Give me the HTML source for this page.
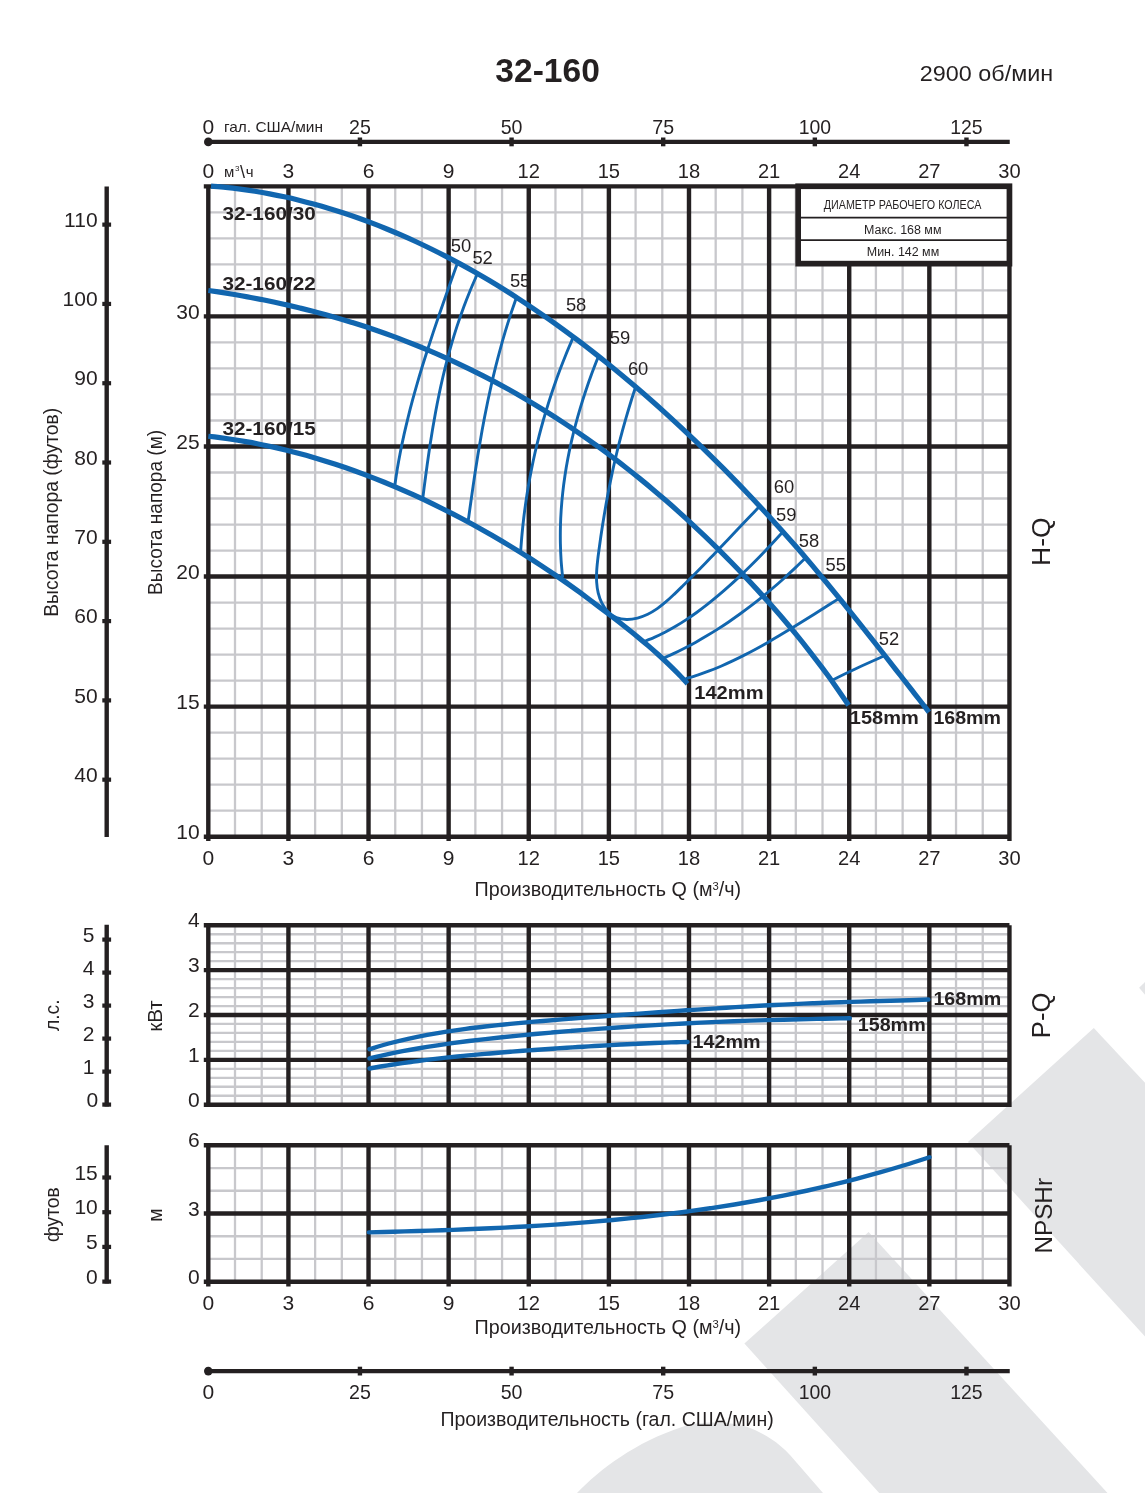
<!DOCTYPE html>
<html><head><meta charset="utf-8"><title>32-160</title>
<style>html,body{margin:0;padding:0;background:#fff}svg{display:block}text{font-family:"Liberation Sans",sans-serif}</style></head>
<body>
<svg width="1145" height="1493" viewBox="0 0 1145 1493" font-family="'Liberation Sans', sans-serif" fill="#231f20">
<rect width="1145" height="1493" fill="#ffffff"/>
<g opacity="0.995">
<g fill="#e4e5e7">
<path d="M1093.8,1028 L967.9,1141.9 L1145,1336.5 L1145,1082.8 Z"/>
<path d="M868.6,1232 L744.4,1343.6 L879.2,1493 L1107.5,1493 Z"/>
<path d="M1139.1,987.7 L1145,982 L1145,994.7 Z"/>
<path d="M577,1493 C600,1469 636,1442 682,1427 C700,1421 730,1421 750,1428 C765,1434 778,1442 790,1455 L823,1493 Z"/>
</g>
<g stroke="#c8c8cc" stroke-width="2.3">
<path d="M235,186.35L235,836.7"/>
<path d="M235,925.3L235,1104.7"/>
<path d="M235,1145.3L235,1281.7"/>
<path d="M261.71,186.35L261.71,836.7"/>
<path d="M261.71,925.3L261.71,1104.7"/>
<path d="M261.71,1145.3L261.71,1281.7"/>
<path d="M315.12,186.35L315.12,836.7"/>
<path d="M315.12,925.3L315.12,1104.7"/>
<path d="M315.12,1145.3L315.12,1281.7"/>
<path d="M341.82,186.35L341.82,836.7"/>
<path d="M341.82,925.3L341.82,1104.7"/>
<path d="M341.82,1145.3L341.82,1281.7"/>
<path d="M395.24,186.35L395.24,836.7"/>
<path d="M395.24,925.3L395.24,1104.7"/>
<path d="M395.24,1145.3L395.24,1281.7"/>
<path d="M421.94,186.35L421.94,836.7"/>
<path d="M421.94,925.3L421.94,1104.7"/>
<path d="M421.94,1145.3L421.94,1281.7"/>
<path d="M475.35,186.35L475.35,836.7"/>
<path d="M475.35,925.3L475.35,1104.7"/>
<path d="M475.35,1145.3L475.35,1281.7"/>
<path d="M502.06,186.35L502.06,836.7"/>
<path d="M502.06,925.3L502.06,1104.7"/>
<path d="M502.06,1145.3L502.06,1281.7"/>
<path d="M555.46,186.35L555.46,836.7"/>
<path d="M555.46,925.3L555.46,1104.7"/>
<path d="M555.46,1145.3L555.46,1281.7"/>
<path d="M582.17,186.35L582.17,836.7"/>
<path d="M582.17,925.3L582.17,1104.7"/>
<path d="M582.17,1145.3L582.17,1281.7"/>
<path d="M635.58,186.35L635.58,836.7"/>
<path d="M635.58,925.3L635.58,1104.7"/>
<path d="M635.58,1145.3L635.58,1281.7"/>
<path d="M662.28,186.35L662.28,836.7"/>
<path d="M662.28,925.3L662.28,1104.7"/>
<path d="M662.28,1145.3L662.28,1281.7"/>
<path d="M715.69,186.35L715.69,836.7"/>
<path d="M715.69,925.3L715.69,1104.7"/>
<path d="M715.69,1145.3L715.69,1281.7"/>
<path d="M742.4,186.35L742.4,836.7"/>
<path d="M742.4,925.3L742.4,1104.7"/>
<path d="M742.4,1145.3L742.4,1281.7"/>
<path d="M795.81,186.35L795.81,836.7"/>
<path d="M795.81,925.3L795.81,1104.7"/>
<path d="M795.81,1145.3L795.81,1281.7"/>
<path d="M822.51,186.35L822.51,836.7"/>
<path d="M822.51,925.3L822.51,1104.7"/>
<path d="M822.51,1145.3L822.51,1281.7"/>
<path d="M875.92,186.35L875.92,836.7"/>
<path d="M875.92,925.3L875.92,1104.7"/>
<path d="M875.92,1145.3L875.92,1281.7"/>
<path d="M902.63,186.35L902.63,836.7"/>
<path d="M902.63,925.3L902.63,1104.7"/>
<path d="M902.63,1145.3L902.63,1281.7"/>
<path d="M956.04,186.35L956.04,836.7"/>
<path d="M956.04,925.3L956.04,1104.7"/>
<path d="M956.04,1145.3L956.04,1281.7"/>
<path d="M982.74,186.35L982.74,836.7"/>
<path d="M982.74,925.3L982.74,1104.7"/>
<path d="M982.74,1145.3L982.74,1281.7"/>
<path d="M208.3,810.69L1009.45,810.69"/>
<path d="M208.3,784.67L1009.45,784.67"/>
<path d="M208.3,758.66L1009.45,758.66"/>
<path d="M208.3,732.64L1009.45,732.64"/>
<path d="M208.3,680.62L1009.45,680.62"/>
<path d="M208.3,654.6L1009.45,654.6"/>
<path d="M208.3,628.59L1009.45,628.59"/>
<path d="M208.3,602.57L1009.45,602.57"/>
<path d="M208.3,550.55L1009.45,550.55"/>
<path d="M208.3,524.53L1009.45,524.53"/>
<path d="M208.3,498.52L1009.45,498.52"/>
<path d="M208.3,472.5L1009.45,472.5"/>
<path d="M208.3,420.48L1009.45,420.48"/>
<path d="M208.3,394.46L1009.45,394.46"/>
<path d="M208.3,368.45L1009.45,368.45"/>
<path d="M208.3,342.43L1009.45,342.43"/>
<path d="M208.3,290.41L1009.45,290.41"/>
<path d="M208.3,264.39L1009.45,264.39"/>
<path d="M208.3,238.38L1009.45,238.38"/>
<path d="M208.3,212.36L1009.45,212.36"/>
<path d="M208.3,1095.73L1009.45,1095.73"/>
<path d="M208.3,1086.76L1009.45,1086.76"/>
<path d="M208.3,1077.79L1009.45,1077.79"/>
<path d="M208.3,1068.82L1009.45,1068.82"/>
<path d="M208.3,1050.88L1009.45,1050.88"/>
<path d="M208.3,1041.91L1009.45,1041.91"/>
<path d="M208.3,1032.94L1009.45,1032.94"/>
<path d="M208.3,1023.97L1009.45,1023.97"/>
<path d="M208.3,1006.03L1009.45,1006.03"/>
<path d="M208.3,997.06L1009.45,997.06"/>
<path d="M208.3,988.09L1009.45,988.09"/>
<path d="M208.3,979.12L1009.45,979.12"/>
<path d="M208.3,961.18L1009.45,961.18"/>
<path d="M208.3,952.21L1009.45,952.21"/>
<path d="M208.3,943.24L1009.45,943.24"/>
<path d="M208.3,934.27L1009.45,934.27"/>
<path d="M208.3,1258.97L1009.45,1258.97"/>
<path d="M208.3,1236.23L1009.45,1236.23"/>
<path d="M208.3,1190.77L1009.45,1190.77"/>
<path d="M208.3,1168.03L1009.45,1168.03"/>
</g>
<rect x="795.3" y="183.1" width="216.6" height="83" fill="#ffffff"/>
<g>
<text x="222.4" y="220.2" font-size="19" font-weight="bold" textLength="93.4" lengthAdjust="spacingAndGlyphs">32-160/30</text>
<text x="222.4" y="289.9" font-size="19" font-weight="bold" textLength="93.4" lengthAdjust="spacingAndGlyphs">32-160/22</text>
<text x="222.4" y="435" font-size="19" font-weight="bold" textLength="93.4" lengthAdjust="spacingAndGlyphs">32-160/15</text>
<text x="694.2" y="698.8" font-size="19" font-weight="bold" textLength="69.4" lengthAdjust="spacingAndGlyphs">142mm</text>
<text x="849.8" y="724.4" font-size="19" font-weight="bold" textLength="69" lengthAdjust="spacingAndGlyphs">158mm</text>
<text x="933.4" y="724.4" font-size="19" font-weight="bold" textLength="67.6" lengthAdjust="spacingAndGlyphs">168mm</text>
<text x="933.4" y="1005" font-size="19" font-weight="bold" textLength="67.8" lengthAdjust="spacingAndGlyphs">168mm</text>
<text x="857.7" y="1031" font-size="19" font-weight="bold" textLength="68" lengthAdjust="spacingAndGlyphs">158mm</text>
<text x="692.6" y="1048.3" font-size="19" font-weight="bold" textLength="68" lengthAdjust="spacingAndGlyphs">142mm</text>
<text x="450.8" y="252.1" font-size="18.4">50</text>
<text x="472.4" y="263.7" font-size="18.4">52</text>
<text x="509.9" y="287.3" font-size="18.4">55</text>
<text x="565.9" y="311.4" font-size="18.4">58</text>
<text x="609.8" y="343.6" font-size="18.4">59</text>
<text x="627.9" y="375.4" font-size="18.4">60</text>
<text x="773.7" y="493.2" font-size="18.4">60</text>
<text x="776" y="520.9" font-size="18.4">59</text>
<text x="798.7" y="547" font-size="18.4">58</text>
<text x="825.5" y="571.3" font-size="18.4">55</text>
<text x="878.8" y="645" font-size="18.4">52</text>
</g>
<g stroke="#231f20" stroke-width="4.4">
<path d="M208.3,186.35L208.3,840.9"/>
<path d="M208.3,925.3L208.3,1104.7"/>
<path d="M208.3,1145.3L208.3,1286.6"/>
<path d="M288.42,186.35L288.42,840.9"/>
<path d="M288.42,925.3L288.42,1106.9"/>
<path d="M288.42,1145.3L288.42,1286.6"/>
<path d="M368.53,186.35L368.53,840.9"/>
<path d="M368.53,925.3L368.53,1106.9"/>
<path d="M368.53,1145.3L368.53,1286.6"/>
<path d="M448.64,186.35L448.64,840.9"/>
<path d="M448.64,925.3L448.64,1106.9"/>
<path d="M448.64,1145.3L448.64,1286.6"/>
<path d="M528.76,186.35L528.76,840.9"/>
<path d="M528.76,925.3L528.76,1106.9"/>
<path d="M528.76,1145.3L528.76,1286.6"/>
<path d="M608.88,186.35L608.88,840.9"/>
<path d="M608.88,925.3L608.88,1106.9"/>
<path d="M608.88,1145.3L608.88,1286.6"/>
<path d="M688.99,186.35L688.99,840.9"/>
<path d="M688.99,925.3L688.99,1106.9"/>
<path d="M688.99,1145.3L688.99,1286.6"/>
<path d="M769.11,186.35L769.11,840.9"/>
<path d="M769.11,925.3L769.11,1106.9"/>
<path d="M769.11,1145.3L769.11,1286.6"/>
<path d="M849.22,186.35L849.22,840.9"/>
<path d="M849.22,925.3L849.22,1106.9"/>
<path d="M849.22,1145.3L849.22,1286.6"/>
<path d="M929.34,186.35L929.34,840.9"/>
<path d="M929.34,925.3L929.34,1106.9"/>
<path d="M929.34,1145.3L929.34,1286.6"/>
<path d="M1009.45,186.35L1009.45,840.9"/>
<path d="M1009.45,925.3L1009.45,1106.9"/>
<path d="M1009.45,1145.3L1009.45,1286.6"/>
<path d="M203.8,836.7L1009.45,836.7"/>
<path d="M203.8,706.63L1009.45,706.63"/>
<path d="M203.8,576.56L1009.45,576.56"/>
<path d="M203.8,446.49L1009.45,446.49"/>
<path d="M203.8,316.42L1009.45,316.42"/>
<path d="M203.8,186.35L1009.45,186.35"/>
<path d="M203.8,1104.7L1009.45,1104.7"/>
<path d="M203.8,1059.85L1009.45,1059.85"/>
<path d="M203.8,1015L1009.45,1015"/>
<path d="M203.8,970.15L1009.45,970.15"/>
<path d="M203.8,925.3L1009.45,925.3"/>
<path d="M203.8,1281.7L1009.45,1281.7"/>
<path d="M203.8,1213.5L1009.45,1213.5"/>
<path d="M203.8,1145.3L1009.45,1145.3"/>
</g>
<g>
<rect x="798.15" y="186.25" width="211.3" height="77.4" fill="#ffffff" stroke="#231f20" stroke-width="5.7"/>
<line x1="800" y1="217.7" x2="1007" y2="217.7" stroke="#231f20" stroke-width="1.8"/>
<line x1="800" y1="240.2" x2="1007" y2="240.2" stroke="#231f20" stroke-width="1.8"/>
<text x="823.8" y="208.9" font-size="12" textLength="157.6" lengthAdjust="spacingAndGlyphs">ДИАМЕТР РАБОЧЕГО КОЛЕСА</text>
<text x="864" y="233.8" font-size="12.45">Макс. 168 мм</text>
<text x="866.8" y="255.6" font-size="12.45">Мин. 142 мм</text>
<line x1="106.7" y1="186.5" x2="106.7" y2="837" stroke="#231f20" stroke-width="4.4"/>
<rect x="102.3" y="777.58" width="8.8" height="4.2" fill="#231f20"/>
<rect x="102.3" y="698.29" width="8.8" height="4.2" fill="#231f20"/>
<rect x="102.3" y="619" width="8.8" height="4.2" fill="#231f20"/>
<rect x="102.3" y="539.71" width="8.8" height="4.2" fill="#231f20"/>
<rect x="102.3" y="460.41" width="8.8" height="4.2" fill="#231f20"/>
<rect x="102.3" y="381.12" width="8.8" height="4.2" fill="#231f20"/>
<rect x="102.3" y="301.83" width="8.8" height="4.2" fill="#231f20"/>
<rect x="102.3" y="222.54" width="8.8" height="4.2" fill="#231f20"/>
<line x1="106.7" y1="924.8" x2="106.7" y2="1106.5" stroke="#231f20" stroke-width="4.4"/>
<rect x="102.3" y="1102.5" width="8.8" height="4.2" fill="#231f20"/>
<rect x="102.3" y="1069.5" width="8.8" height="4.2" fill="#231f20"/>
<rect x="102.3" y="1036.5" width="8.8" height="4.2" fill="#231f20"/>
<rect x="102.3" y="1003.5" width="8.8" height="4.2" fill="#231f20"/>
<rect x="102.3" y="970.5" width="8.8" height="4.2" fill="#231f20"/>
<rect x="102.3" y="937.5" width="8.8" height="4.2" fill="#231f20"/>
<line x1="106.7" y1="1145.3" x2="106.7" y2="1283.6" stroke="#231f20" stroke-width="4.4"/>
<rect x="102.3" y="1279.5" width="8.8" height="4.2" fill="#231f20"/>
<rect x="102.3" y="1244.8" width="8.8" height="4.2" fill="#231f20"/>
<rect x="102.3" y="1210.1" width="8.8" height="4.2" fill="#231f20"/>
<rect x="102.3" y="1175.4" width="8.8" height="4.2" fill="#231f20"/>
<line x1="208.3" y1="141.9" x2="1009.75" y2="141.9" stroke="#231f20" stroke-width="4.2"/>
<circle cx="208.3" cy="141.9" r="4.3" fill="#231f20"/>
<rect x="357.73" y="137.5" width="4.4" height="8.8" fill="#231f20"/>
<rect x="509.37" y="137.5" width="4.4" height="8.8" fill="#231f20"/>
<rect x="661" y="137.5" width="4.4" height="8.8" fill="#231f20"/>
<rect x="812.64" y="137.5" width="4.4" height="8.8" fill="#231f20"/>
<rect x="964.27" y="137.5" width="4.4" height="8.8" fill="#231f20"/>
<line x1="208.3" y1="1371.1" x2="1009.75" y2="1371.1" stroke="#231f20" stroke-width="4.2"/>
<circle cx="208.3" cy="1371.1" r="4.3" fill="#231f20"/>
<rect x="357.73" y="1366.7" width="4.4" height="8.8" fill="#231f20"/>
<rect x="509.37" y="1366.7" width="4.4" height="8.8" fill="#231f20"/>
<rect x="661" y="1366.7" width="4.4" height="8.8" fill="#231f20"/>
<rect x="812.64" y="1366.7" width="4.4" height="8.8" fill="#231f20"/>
<rect x="964.27" y="1366.7" width="4.4" height="8.8" fill="#231f20"/>
<text x="208.3" y="134" font-size="21" text-anchor="middle">0</text>
<text x="208.3" y="1398.5" font-size="21" text-anchor="middle">0</text>
<text x="349.03" y="134" font-size="21" textLength="21.8" lengthAdjust="spacingAndGlyphs">25</text>
<text x="349.03" y="1398.5" font-size="21" textLength="21.8" lengthAdjust="spacingAndGlyphs">25</text>
<text x="500.67" y="134" font-size="21" textLength="21.8" lengthAdjust="spacingAndGlyphs">50</text>
<text x="500.67" y="1398.5" font-size="21" textLength="21.8" lengthAdjust="spacingAndGlyphs">50</text>
<text x="652.3" y="134" font-size="21" textLength="21.8" lengthAdjust="spacingAndGlyphs">75</text>
<text x="652.3" y="1398.5" font-size="21" textLength="21.8" lengthAdjust="spacingAndGlyphs">75</text>
<text x="798.64" y="134" font-size="21" textLength="32.4" lengthAdjust="spacingAndGlyphs">100</text>
<text x="798.64" y="1398.5" font-size="21" textLength="32.4" lengthAdjust="spacingAndGlyphs">100</text>
<text x="950.27" y="134" font-size="21" textLength="32.4" lengthAdjust="spacingAndGlyphs">125</text>
<text x="950.27" y="1398.5" font-size="21" textLength="32.4" lengthAdjust="spacingAndGlyphs">125</text>
<text x="208.3" y="178.3" font-size="21" text-anchor="middle">0</text>
<text x="208.3" y="864.5" font-size="21" text-anchor="middle">0</text>
<text x="208.3" y="1309.6" font-size="21" text-anchor="middle">0</text>
<text x="288.42" y="178.3" font-size="21" text-anchor="middle">3</text>
<text x="288.42" y="864.5" font-size="21" text-anchor="middle">3</text>
<text x="288.42" y="1309.6" font-size="21" text-anchor="middle">3</text>
<text x="368.53" y="178.3" font-size="21" text-anchor="middle">6</text>
<text x="368.53" y="864.5" font-size="21" text-anchor="middle">6</text>
<text x="368.53" y="1309.6" font-size="21" text-anchor="middle">6</text>
<text x="448.64" y="178.3" font-size="21" text-anchor="middle">9</text>
<text x="448.64" y="864.5" font-size="21" text-anchor="middle">9</text>
<text x="448.64" y="1309.6" font-size="21" text-anchor="middle">9</text>
<text x="517.56" y="178.3" font-size="21" textLength="22.4" lengthAdjust="spacingAndGlyphs">12</text>
<text x="517.56" y="864.5" font-size="21" textLength="22.4" lengthAdjust="spacingAndGlyphs">12</text>
<text x="517.56" y="1309.6" font-size="21" textLength="22.4" lengthAdjust="spacingAndGlyphs">12</text>
<text x="597.67" y="178.3" font-size="21" textLength="22.4" lengthAdjust="spacingAndGlyphs">15</text>
<text x="597.67" y="864.5" font-size="21" textLength="22.4" lengthAdjust="spacingAndGlyphs">15</text>
<text x="597.67" y="1309.6" font-size="21" textLength="22.4" lengthAdjust="spacingAndGlyphs">15</text>
<text x="677.79" y="178.3" font-size="21" textLength="22.4" lengthAdjust="spacingAndGlyphs">18</text>
<text x="677.79" y="864.5" font-size="21" textLength="22.4" lengthAdjust="spacingAndGlyphs">18</text>
<text x="677.79" y="1309.6" font-size="21" textLength="22.4" lengthAdjust="spacingAndGlyphs">18</text>
<text x="757.9" y="178.3" font-size="21" textLength="22.4" lengthAdjust="spacingAndGlyphs">21</text>
<text x="757.9" y="864.5" font-size="21" textLength="22.4" lengthAdjust="spacingAndGlyphs">21</text>
<text x="757.9" y="1309.6" font-size="21" textLength="22.4" lengthAdjust="spacingAndGlyphs">21</text>
<text x="838.02" y="178.3" font-size="21" textLength="22.4" lengthAdjust="spacingAndGlyphs">24</text>
<text x="838.02" y="864.5" font-size="21" textLength="22.4" lengthAdjust="spacingAndGlyphs">24</text>
<text x="838.02" y="1309.6" font-size="21" textLength="22.4" lengthAdjust="spacingAndGlyphs">24</text>
<text x="918.13" y="178.3" font-size="21" textLength="22.4" lengthAdjust="spacingAndGlyphs">27</text>
<text x="918.13" y="864.5" font-size="21" textLength="22.4" lengthAdjust="spacingAndGlyphs">27</text>
<text x="918.13" y="1309.6" font-size="21" textLength="22.4" lengthAdjust="spacingAndGlyphs">27</text>
<text x="998.25" y="178.3" font-size="21" textLength="22.4" lengthAdjust="spacingAndGlyphs">30</text>
<text x="998.25" y="864.5" font-size="21" textLength="22.4" lengthAdjust="spacingAndGlyphs">30</text>
<text x="998.25" y="1309.6" font-size="21" textLength="22.4" lengthAdjust="spacingAndGlyphs">30</text>
<text x="199.6" y="838.9" font-size="21" text-anchor="end">10</text>
<text x="199.6" y="708.83" font-size="21" text-anchor="end">15</text>
<text x="199.6" y="578.76" font-size="21" text-anchor="end">20</text>
<text x="199.6" y="448.69" font-size="21" text-anchor="end">25</text>
<text x="199.6" y="318.62" font-size="21" text-anchor="end">30</text>
<text x="97.6" y="781.88" font-size="21" text-anchor="end">40</text>
<text x="97.6" y="702.59" font-size="21" text-anchor="end">50</text>
<text x="97.6" y="623.3" font-size="21" text-anchor="end">60</text>
<text x="97.6" y="544.01" font-size="21" text-anchor="end">70</text>
<text x="97.6" y="464.71" font-size="21" text-anchor="end">80</text>
<text x="97.6" y="385.42" font-size="21" text-anchor="end">90</text>
<text x="97.6" y="306.13" font-size="21" text-anchor="end">100</text>
<text x="97.6" y="226.84" font-size="21" text-anchor="end">110</text>
<text x="199.6" y="1106.7" font-size="21" text-anchor="end">0</text>
<text x="199.6" y="1061.85" font-size="21" text-anchor="end">1</text>
<text x="199.6" y="1017" font-size="21" text-anchor="end">2</text>
<text x="199.6" y="972.15" font-size="21" text-anchor="end">3</text>
<text x="199.6" y="927.3" font-size="21" text-anchor="end">4</text>
<text x="98.2" y="1106.8" font-size="21" text-anchor="end">0</text>
<text x="94.4" y="1073.8" font-size="21" text-anchor="end">1</text>
<text x="94.4" y="1040.8" font-size="21" text-anchor="end">2</text>
<text x="94.4" y="1007.8" font-size="21" text-anchor="end">3</text>
<text x="94.4" y="974.8" font-size="21" text-anchor="end">4</text>
<text x="94.4" y="941.8" font-size="21" text-anchor="end">5</text>
<text x="199.6" y="1283.7" font-size="21" text-anchor="end">0</text>
<text x="199.6" y="1215.5" font-size="21" text-anchor="end">3</text>
<text x="199.6" y="1147.3" font-size="21" text-anchor="end">6</text>
<text x="97.8" y="1283.8" font-size="21" text-anchor="end">0</text>
<text x="97.8" y="1249.1" font-size="21" text-anchor="end">5</text>
<text x="97.8" y="1214.4" font-size="21" text-anchor="end">10</text>
<text x="97.8" y="1179.7" font-size="21" text-anchor="end">15</text>
<text x="224" y="132.3" font-size="15" textLength="99" lengthAdjust="spacingAndGlyphs">гал. США/мин</text>
<text x="224" y="176.9" font-size="15">м<tspan font-size="8" dy="-5.5" dx="0.6">3</tspan><tspan dy="6.5" dx="0.6" font-size="18">\</tspan><tspan dy="-1" dx="0.8">ч</tspan></text>
<text x="495.3" y="81.9" font-size="33" font-weight="bold" textLength="104.6" lengthAdjust="spacingAndGlyphs">32-160</text>
<text x="919.8" y="80.5" font-size="22" textLength="133.4" lengthAdjust="spacingAndGlyphs">2900 об/мин</text>
<text x="474.6" y="895.9" font-size="19.3" textLength="266.6" lengthAdjust="spacingAndGlyphs">Производительность Q (м<tspan font-size="11" dy="-6">3</tspan><tspan dy="6">/ч)</tspan></text>
<text x="474.6" y="1334.1" font-size="19.3" textLength="266.6" lengthAdjust="spacingAndGlyphs">Производительность Q (м<tspan font-size="11" dy="-6">3</tspan><tspan dy="6">/ч)</tspan></text>
<text x="440.4" y="1425.5" font-size="19.3" textLength="333.4" lengthAdjust="spacingAndGlyphs">Производительность (гал. США/мин)</text>
<text x="-46.6" y="512.3" font-size="19.3" textLength="209" lengthAdjust="spacingAndGlyphs" transform="rotate(-90 57.9 512.3)">Высота напора (футов)</text>
<text x="79.7" y="512.4" font-size="19.3" textLength="165" lengthAdjust="spacingAndGlyphs" transform="rotate(-90 162.2 512.4)">Высота напора (м)</text>
<text x="58.9" y="1015.3" font-size="19.3" text-anchor="middle" transform="rotate(-90 58.9 1015.3)">л.с.</text>
<text x="146.4" y="1016" font-size="19.3" textLength="31.6" lengthAdjust="spacingAndGlyphs" transform="rotate(-90 162.2 1016)">кВт</text>
<text x="58.9" y="1214.6" font-size="19.3" text-anchor="middle" transform="rotate(-90 58.9 1214.6)">футов</text>
<text x="162.2" y="1215" font-size="19.3" text-anchor="middle" transform="rotate(-90 162.2 1215)">м</text>
<text x="1026" y="541.7" font-size="25" textLength="48.6" lengthAdjust="spacingAndGlyphs" transform="rotate(-90 1050.3 541.7)">H-Q</text>
<text x="1027.55" y="1015.4" font-size="25" textLength="45.5" lengthAdjust="spacingAndGlyphs" transform="rotate(-90 1050.3 1015.4)">P-Q</text>
<text x="1014.2" y="1215.8" font-size="24.6" textLength="75.6" lengthAdjust="spacingAndGlyphs" transform="rotate(-90 1052 1215.8)">NPSHr</text>
</g>
<path d="M457.31,263.5C456.29,266.35 453.21,274.89 451.18,280.59C449.15,286.29 447.13,291.99 445.12,297.68C443.12,303.38 441.14,309.08 439.18,314.78C437.22,320.47 435.28,326.17 433.38,331.87C431.49,337.57 429.61,343.26 427.78,348.96C425.95,354.66 424.16,360.36 422.41,366.05C420.67,371.75 418.96,377.45 417.32,383.15C415.67,388.84 414.07,394.54 412.53,400.24C411,405.94 409.52,411.63 408.11,417.33C406.7,423.03 405.35,428.73 404.08,434.42C402.8,440.12 401.6,445.82 400.48,451.52C399.36,457.21 398.32,462.91 397.36,468.61C396.41,474.31 395.2,482.85 394.76,485.7" fill="none" stroke="#1065af" stroke-width="2.9" stroke-linecap="butt" stroke-linejoin="round"/>
<path d="M477.11,274.5C475.88,277.37 472.04,285.97 469.69,291.71C467.35,297.44 465.13,303.18 463.02,308.92C460.92,314.65 458.94,320.39 457.05,326.12C455.17,331.86 453.4,337.59 451.71,343.33C450.03,349.07 448.45,354.8 446.95,360.54C445.45,366.27 444.05,372.01 442.72,377.75C441.38,383.48 440.13,389.22 438.94,394.95C437.75,400.69 436.64,406.43 435.57,412.16C434.51,417.9 433.51,423.63 432.55,429.37C431.59,435.11 430.69,440.84 429.82,446.58C428.95,452.31 428.12,458.05 427.32,463.78C426.51,469.52 425.75,475.26 424.99,480.99C424.23,486.73 423.15,495.33 422.78,498.2" fill="none" stroke="#1065af" stroke-width="2.9" stroke-linecap="butt" stroke-linejoin="round"/>
<path d="M516.15,298.3C515.18,301.15 512.19,309.68 510.33,315.38C508.47,321.07 506.7,326.76 505,332.45C503.3,338.15 501.68,343.84 500.13,349.53C498.57,355.22 497.09,360.92 495.67,366.61C494.25,372.3 492.9,377.99 491.6,383.68C490.3,389.38 489.06,395.07 487.87,400.76C486.68,406.45 485.54,412.15 484.45,417.84C483.35,423.53 482.31,429.22 481.3,434.92C480.29,440.61 479.32,446.3 478.38,451.99C477.44,457.68 476.54,463.38 475.66,469.07C474.78,474.76 473.93,480.45 473.1,486.15C472.27,491.84 471.46,497.53 470.66,503.22C469.86,508.92 468.69,517.45 468.3,520.3" fill="none" stroke="#1065af" stroke-width="2.9" stroke-linecap="butt" stroke-linejoin="round"/>
<path d="M572.84,338.1C571.69,340.83 568.16,349.02 565.95,354.48C563.74,359.94 561.61,365.39 559.57,370.85C557.53,376.31 555.57,381.77 553.69,387.23C551.81,392.69 550.01,398.15 548.3,403.61C546.58,409.07 544.95,414.53 543.39,419.98C541.84,425.44 540.36,430.9 538.97,436.36C537.57,441.82 536.25,447.28 535.01,452.74C533.76,458.2 532.6,463.66 531.51,469.12C530.42,474.57 529.41,480.03 528.47,485.49C527.53,490.95 526.66,496.41 525.87,501.87C525.08,507.33 524.36,512.79 523.71,518.25C523.07,523.71 522.49,529.16 521.99,534.62C521.48,540.08 520.9,548.27 520.68,551" fill="none" stroke="#1065af" stroke-width="2.9" stroke-linecap="butt" stroke-linejoin="round"/>
<path d="M597.98,357.4C596.91,360.22 593.58,368.67 591.52,374.3C589.46,379.93 587.48,385.57 585.6,391.2C583.72,396.83 581.93,402.47 580.25,408.1C578.56,413.73 576.97,419.37 575.49,425C574,430.63 572.61,436.27 571.33,441.9C570.05,447.53 568.87,453.17 567.81,458.8C566.74,464.43 565.78,470.07 564.94,475.7C564.09,481.33 563.35,486.97 562.74,492.6C562.12,498.23 561.61,503.87 561.23,509.5C560.85,515.13 560.58,520.77 560.44,526.4C560.3,532.03 560.28,537.67 560.39,543.3C560.5,548.93 560.73,554.57 561.09,560.2C561.45,565.83 562.33,574.28 562.57,577.1" fill="none" stroke="#1065af" stroke-width="2.9" stroke-linecap="butt" stroke-linejoin="round"/>
<path d="M635.35,387.76C634.77,389.55 633,394.95 631.87,398.52C630.74,402.1 629.65,405.66 628.58,409.21C627.51,412.76 626.47,416.3 625.46,419.84C624.45,423.37 623.46,426.89 622.51,430.41C621.55,433.94 620.62,437.45 619.72,440.96C618.82,444.48 617.94,447.99 617.09,451.5C616.24,455.02 615.41,458.53 614.61,462.04C613.8,465.56 613.02,469.08 612.26,472.61C611.5,476.13 610.77,479.66 610.05,483.21C609.34,486.75 608.64,490.3 607.97,493.86C607.29,497.42 606.64,500.99 606,504.58C605.36,508.17 604.75,511.77 604.14,515.39C603.54,519.01 602.96,522.65 602.39,526.3C601.82,529.96 601.27,533.64 600.73,537.34C600.2,541.04 599.67,544.76 599.17,548.5C598.66,552.25 598.12,556.04 597.7,559.81C597.29,563.59 596.86,567.4 596.68,571.13C596.51,574.87 596.41,578.61 596.66,582.24C596.91,585.87 597.32,589.46 598.18,592.91C599.03,596.35 600.17,599.78 601.79,602.91C603.42,606.04 605.48,609.25 607.91,611.69C610.34,614.12 613.26,616.22 616.38,617.52C619.49,618.81 623.09,619.34 626.6,619.43C630.11,619.53 633.9,618.95 637.43,618.09C640.96,617.23 644.45,615.85 647.75,614.28C651.05,612.7 654.18,610.73 657.23,608.64C660.28,606.55 663.19,604.15 666.05,601.73C668.91,599.3 671.66,596.67 674.39,594.09C677.12,591.51 679.79,588.87 682.44,586.26C685.09,583.66 687.7,581.06 690.3,578.47C692.89,575.87 695.46,573.28 698.01,570.69C700.56,568.1 703.09,565.52 705.6,562.93C708.12,560.34 710.62,557.75 713.12,555.15C715.62,552.55 718.11,549.95 720.6,547.34C723.09,544.73 725.57,542.12 728.07,539.49C730.57,536.87 733.06,534.23 735.58,531.58C738.09,528.93 740.61,526.27 743.15,523.59C745.7,520.91 748.25,518.22 750.84,515.51C753.42,512.8 757.36,508.68 758.66,507.32" fill="none" stroke="#1065af" stroke-width="2.9" stroke-linecap="butt" stroke-linejoin="round"/>
<path d="M643.6,641.76C645.38,641.03 650.72,639 654.28,637.42C657.84,635.84 661.39,634.11 664.95,632.26C668.51,630.41 672.07,628.42 675.63,626.31C679.19,624.2 682.75,621.96 686.31,619.61C689.87,617.26 693.43,614.79 696.98,612.21C700.54,609.63 704.1,606.93 707.66,604.14C711.22,601.34 714.78,598.44 718.34,595.44C721.9,592.45 725.46,589.35 729.02,586.16C732.57,582.98 736.13,579.7 739.69,576.34C743.25,572.98 746.81,569.53 750.37,566.01C753.93,562.5 757.49,558.89 761.05,555.23C764.61,551.56 768.16,547.82 771.72,544.02C775.28,540.22 780.62,534.36 782.4,532.43" fill="none" stroke="#1065af" stroke-width="2.9" stroke-linecap="butt" stroke-linejoin="round"/>
<path d="M663.1,658.42C664.92,657.59 670.38,655.16 674.02,653.42C677.66,651.69 681.31,649.88 684.95,648C688.59,646.12 692.23,644.17 695.87,642.15C699.51,640.12 703.15,638.03 706.79,635.85C710.43,633.68 714.07,631.44 717.72,629.12C721.36,626.8 725,624.4 728.64,621.93C732.28,619.46 735.92,616.91 739.56,614.29C743.2,611.66 746.84,608.96 750.48,606.17C754.13,603.39 757.77,600.53 761.41,597.59C765.05,594.65 768.69,591.63 772.33,588.52C775.97,585.42 779.61,582.24 783.25,578.97C786.89,575.71 790.54,572.36 794.18,568.93C797.82,565.5 803.28,560.14 805.1,558.38" fill="none" stroke="#1065af" stroke-width="2.9" stroke-linecap="butt" stroke-linejoin="round"/>
<path d="M685.8,678.65C687.75,678.06 693.61,676.42 697.51,675.14C701.41,673.86 705.31,672.46 709.22,670.98C713.12,669.49 717.02,667.89 720.92,666.22C724.83,664.54 728.73,662.77 732.63,660.93C736.53,659.08 740.44,657.15 744.34,655.16C748.24,653.17 752.14,651.1 756.05,648.98C759.95,646.86 763.85,644.67 767.75,642.44C771.66,640.21 775.56,637.93 779.46,635.61C783.36,633.3 787.27,630.93 791.17,628.55C795.07,626.16 798.97,623.74 802.88,621.31C806.78,618.87 810.68,616.41 814.58,613.95C818.49,611.49 822.39,609.01 826.29,606.54C830.19,604.07 836.05,600.37 838,599.14" fill="none" stroke="#1065af" stroke-width="2.9" stroke-linecap="butt" stroke-linejoin="round"/>
<path d="M832.3,680C836.65,677.92 849.7,671.53 858.4,667.5C867.1,663.47 880.15,657.75 884.5,655.8" fill="none" stroke="#1065af" stroke-width="2.9" stroke-linecap="butt" stroke-linejoin="round"/>
<path d="M211,186.1C213.44,186.32 220.77,186.91 225.65,187.42C230.54,187.93 235.42,188.51 240.31,189.16C245.19,189.8 250.07,190.52 254.96,191.3C259.84,192.09 264.73,192.94 269.61,193.86C274.5,194.79 279.38,195.78 284.27,196.83C289.15,197.89 294.03,199.02 298.92,200.21C303.8,201.41 308.69,202.67 313.57,204C318.46,205.33 323.34,206.72 328.22,208.19C333.11,209.65 337.99,211.18 342.88,212.78C347.76,214.38 352.65,216.05 357.53,217.78C362.41,219.51 367.3,221.31 372.18,223.18C377.07,225.04 381.95,226.98 386.84,228.97C391.72,230.97 396.61,233.04 401.49,235.17C406.37,237.3 411.26,239.5 416.14,241.76C421.03,244.02 425.91,246.35 430.8,248.74C435.68,251.14 440.56,253.59 445.45,256.12C450.33,258.64 455.22,261.23 460.1,263.89C464.99,266.54 469.87,269.26 474.76,272.05C479.64,274.83 484.52,277.68 489.41,280.59C494.29,283.51 499.18,286.48 504.06,289.53C508.95,292.57 513.83,295.67 518.71,298.84C523.6,302.01 528.48,305.25 533.37,308.54C538.25,311.84 543.14,315.2 548.02,318.63C552.9,322.05 557.79,325.54 562.67,329.09C567.56,332.64 572.44,336.26 577.33,339.93C582.21,343.61 587.1,347.35 591.98,351.15C596.86,354.96 601.75,358.82 606.63,362.75C611.52,366.68 616.4,370.67 621.29,374.72C626.17,378.77 631.05,382.89 635.94,387.06C640.82,391.24 645.71,395.48 650.59,399.78C655.48,404.08 660.36,408.44 665.24,412.87C670.13,417.3 675.01,421.78 679.9,426.33C684.78,430.88 689.67,435.5 694.55,440.17C699.44,444.84 704.32,449.58 709.2,454.38C714.09,459.18 718.97,464.04 723.86,468.96C728.74,473.89 733.63,478.87 738.51,483.92C743.39,488.97 748.28,494.08 753.16,499.26C758.05,504.45 762.93,509.69 767.82,515.01C772.7,520.34 777.59,525.73 782.47,531.19C787.35,536.66 792.24,542.2 797.12,547.82C802.01,553.44 806.89,559.14 811.78,564.92C816.66,570.69 821.54,576.55 826.43,582.46C831.31,588.37 836.2,594.35 841.08,600.38C845.97,606.4 850.85,612.49 855.73,618.61C860.62,624.73 865.5,630.9 870.39,637.09C875.27,643.28 880.16,649.51 885.04,655.75C889.93,661.98 894.81,668.25 899.69,674.51C904.58,680.77 909.46,687.05 914.35,693.32C919.23,699.59 926.56,708.97 929,712.11" fill="none" stroke="#1065af" stroke-width="5.2" stroke-linecap="butt" stroke-linejoin="round"/>
<path d="M208.3,290.47C210.48,290.79 217.01,291.74 221.37,292.42C225.72,293.1 230.08,293.81 234.43,294.55C238.79,295.29 243.15,296.06 247.5,296.86C251.86,297.66 256.21,298.48 260.57,299.35C264.93,300.21 269.28,301.1 273.64,302.03C277.99,302.95 282.35,303.91 286.7,304.9C291.06,305.89 295.42,306.92 299.77,307.98C304.13,309.04 308.48,310.13 312.84,311.26C317.19,312.39 321.55,313.56 325.91,314.76C330.26,315.96 334.62,317.2 338.97,318.48C343.33,319.76 347.69,321.07 352.04,322.42C356.4,323.78 360.75,325.17 365.11,326.6C369.46,328.03 373.82,329.5 378.18,331.01C382.53,332.52 386.89,334.07 391.24,335.67C395.6,337.26 399.95,338.89 404.31,340.57C408.67,342.25 413.02,343.97 417.38,345.73C421.73,347.5 426.09,349.31 430.44,351.16C434.8,353.01 439.16,354.91 443.51,356.85C447.87,358.79 452.22,360.78 456.58,362.81C460.94,364.85 465.29,366.93 469.65,369.05C474,371.18 478.36,373.36 482.71,375.58C487.07,377.81 491.43,380.08 495.78,382.4C500.14,384.73 504.49,387.1 508.85,389.52C513.2,391.94 517.56,394.42 521.92,396.94C526.27,399.47 530.63,402.04 534.98,404.67C539.34,407.3 543.7,409.98 548.05,412.72C552.41,415.45 556.76,418.24 561.12,421.08C565.47,423.93 569.83,426.82 574.19,429.78C578.54,432.73 582.9,435.74 587.25,438.8C591.61,441.87 595.96,444.99 600.32,448.17C604.68,451.35 609.03,454.58 613.39,457.88C617.74,461.17 622.1,464.53 626.46,467.94C630.81,471.35 635.17,474.83 639.52,478.36C643.88,481.9 648.23,485.49 652.59,489.15C656.95,492.81 661.3,496.53 665.66,500.32C670.01,504.1 674.37,507.95 678.72,511.86C683.08,515.78 687.44,519.76 691.79,523.8C696.15,527.85 700.5,531.96 704.86,536.14C709.21,540.32 713.57,544.57 717.93,548.88C722.28,553.2 726.64,557.58 730.99,562.04C735.35,566.5 739.71,571.02 744.06,575.62C748.42,580.22 752.77,584.89 757.13,589.63C761.48,594.38 765.84,599.18 770.2,604.08C774.55,608.98 778.91,613.93 783.26,619.02C787.62,624.12 791.97,629.31 796.33,634.64C800.69,639.98 805.04,645.45 809.4,651.04C813.75,656.62 818.11,662.31 822.47,668.16C826.82,674.01 831.18,679.97 835.53,686.13C839.89,692.3 846.42,702 848.6,705.17" fill="none" stroke="#1065af" stroke-width="5.2" stroke-linecap="butt" stroke-linejoin="round"/>
<path d="M208.3,436.22C209.93,436.42 214.82,436.98 218.08,437.39C221.34,437.81 224.6,438.26 227.86,438.73C231.12,439.2 234.38,439.7 237.64,440.23C240.9,440.76 244.16,441.32 247.42,441.9C250.68,442.48 253.94,443.1 257.2,443.74C260.46,444.37 263.72,445.04 266.98,445.73C270.24,446.43 273.5,447.15 276.76,447.9C280.02,448.65 283.28,449.42 286.54,450.22C289.8,451.03 293.06,451.86 296.32,452.71C299.58,453.57 302.84,454.45 306.1,455.36C309.36,456.27 312.62,457.21 315.88,458.17C319.14,459.13 322.4,460.12 325.66,461.14C328.91,462.16 332.17,463.2 335.43,464.27C338.69,465.34 341.95,466.44 345.21,467.56C348.47,468.68 351.73,469.83 354.99,471C358.25,472.18 361.51,473.38 364.77,474.6C368.03,475.83 371.29,477.08 374.55,478.36C377.81,479.64 381.07,480.94 384.33,482.27C387.59,483.6 390.85,484.96 394.11,486.34C397.37,487.72 400.63,489.13 403.89,490.56C407.15,491.99 410.41,493.45 413.67,494.93C416.93,496.41 420.19,497.92 423.45,499.46C426.71,500.99 429.97,502.55 433.23,504.13C436.49,505.71 439.75,507.32 443.01,508.96C446.27,510.59 449.53,512.25 452.79,513.93C456.05,515.62 459.31,517.32 462.57,519.06C465.83,520.79 469.09,522.55 472.35,524.33C475.61,526.11 478.87,527.92 482.13,529.75C485.39,531.58 488.65,533.43 491.91,535.31C495.17,537.19 498.43,539.09 501.69,541.02C504.95,542.95 508.21,544.9 511.47,546.88C514.73,548.85 517.99,550.85 521.25,552.88C524.51,554.9 527.77,556.95 531.03,559.02C534.29,561.1 537.55,563.2 540.81,565.33C544.07,567.46 547.33,569.62 550.59,571.82C553.85,574.01 557.11,576.24 560.37,578.5C563.63,580.76 566.89,583.07 570.14,585.4C573.4,587.73 576.66,590.09 579.92,592.48C583.18,594.87 586.44,597.29 589.7,599.72C592.96,602.16 596.22,604.62 599.48,607.09C602.74,609.55 606,612.04 609.26,614.53C612.52,617.03 615.78,619.53 619.04,622.06C622.3,624.59 625.56,627.14 628.82,629.73C632.08,632.33 635.34,634.95 638.6,637.64C641.86,640.33 645.12,643.05 648.38,645.86C651.64,648.67 654.9,651.53 658.16,654.49C661.42,657.45 664.68,660.47 667.94,663.61C671.2,666.75 674.46,669.96 677.72,673.31C680.98,676.65 685.87,681.94 687.5,683.67" fill="none" stroke="#1065af" stroke-width="5.2" stroke-linecap="butt" stroke-linejoin="round"/>
<path d="M369.5,1049.2C372.71,1048.25 382.35,1045.24 388.77,1043.5C395.2,1041.76 401.62,1040.22 408.04,1038.78C414.47,1037.34 420.89,1036.06 427.32,1034.87C433.74,1033.67 440.17,1032.61 446.59,1031.61C453.01,1030.6 459.44,1029.71 465.86,1028.86C472.29,1028 478.71,1027.24 485.13,1026.5C491.56,1025.77 497.98,1025.1 504.41,1024.45C510.83,1023.8 517.26,1023.21 523.68,1022.62C530.1,1022.04 536.53,1021.49 542.95,1020.95C549.38,1020.41 555.8,1019.89 562.22,1019.38C568.65,1018.88 575.07,1018.38 581.5,1017.89C587.92,1017.4 594.34,1016.92 600.77,1016.44C607.19,1015.97 613.62,1015.49 620.04,1015.03C626.47,1014.56 632.89,1014.09 639.31,1013.63C645.74,1013.17 652.16,1012.71 658.59,1012.26C665.01,1011.81 671.43,1011.36 677.86,1010.92C684.28,1010.47 690.71,1010.04 697.13,1009.61C703.56,1009.18 709.98,1008.76 716.4,1008.35C722.83,1007.95 729.25,1007.55 735.68,1007.16C742.1,1006.78 748.52,1006.4 754.95,1006.05C761.37,1005.69 767.8,1005.35 774.22,1005.02C780.64,1004.69 787.07,1004.38 793.49,1004.09C799.92,1003.79 806.34,1003.52 812.77,1003.25C819.19,1002.99 825.61,1002.75 832.04,1002.52C838.46,1002.29 844.89,1002.07 851.31,1001.87C857.73,1001.66 864.16,1001.47 870.58,1001.28C877.01,1001.09 883.43,1000.92 889.86,1000.73C896.28,1000.55 902.7,1000.38 909.13,1000.18C915.55,999.99 925.19,999.67 928.4,999.57" fill="none" stroke="#1065af" stroke-width="4.4" stroke-linecap="round" stroke-linejoin="round"/>
<path d="M369.5,1058.43C372.26,1057.79 380.54,1055.79 386.06,1054.59C391.58,1053.38 397.1,1052.27 402.62,1051.21C408.14,1050.15 413.67,1049.16 419.19,1048.22C424.71,1047.28 430.23,1046.4 435.75,1045.56C441.27,1044.72 446.79,1043.93 452.31,1043.18C457.83,1042.42 463.35,1041.71 468.87,1041.02C474.39,1040.34 479.91,1039.69 485.43,1039.06C490.96,1038.43 496.48,1037.84 502,1037.26C507.52,1036.68 513.04,1036.12 518.56,1035.59C524.08,1035.05 529.6,1034.53 535.12,1034.03C540.64,1033.52 546.16,1033.04 551.68,1032.56C557.2,1032.09 562.72,1031.63 568.24,1031.18C573.77,1030.73 579.29,1030.3 584.81,1029.87C590.33,1029.45 595.85,1029.04 601.37,1028.64C606.89,1028.24 612.41,1027.85 617.93,1027.47C623.45,1027.09 628.97,1026.72 634.49,1026.37C640.01,1026.01 645.53,1025.66 651.06,1025.33C656.58,1025 662.1,1024.68 667.62,1024.37C673.14,1024.06 678.66,1023.76 684.18,1023.48C689.7,1023.19 695.22,1022.92 700.74,1022.66C706.26,1022.4 711.78,1022.16 717.3,1021.92C722.82,1021.69 728.34,1021.47 733.87,1021.26C739.39,1021.05 744.91,1020.85 750.43,1020.67C755.95,1020.48 761.47,1020.31 766.99,1020.15C772.51,1019.98 778.03,1019.83 783.55,1019.69C789.07,1019.54 794.59,1019.41 800.11,1019.28C805.63,1019.15 811.16,1019.03 816.68,1018.91C822.2,1018.79 827.72,1018.67 833.24,1018.55C838.76,1018.43 847.04,1018.25 849.8,1018.19" fill="none" stroke="#1065af" stroke-width="4.4" stroke-linecap="round" stroke-linejoin="round"/>
<path d="M369.5,1068.47C371.33,1068.14 376.81,1067.15 380.47,1066.53C384.13,1065.92 387.78,1065.33 391.44,1064.76C395.09,1064.19 398.75,1063.64 402.41,1063.11C406.06,1062.59 409.72,1062.08 413.38,1061.59C417.03,1061.11 420.69,1060.64 424.34,1060.18C428,1059.73 431.66,1059.3 435.31,1058.87C438.97,1058.45 442.63,1058.05 446.28,1057.65C449.94,1057.26 453.6,1056.88 457.25,1056.51C460.91,1056.13 464.56,1055.78 468.22,1055.43C471.88,1055.08 475.53,1054.74 479.19,1054.41C482.85,1054.08 486.5,1053.76 490.16,1053.44C493.81,1053.13 497.47,1052.83 501.13,1052.53C504.78,1052.23 508.44,1051.93 512.1,1051.65C515.75,1051.36 519.41,1051.08 523.07,1050.8C526.72,1050.53 530.38,1050.26 534.03,1049.99C537.69,1049.73 541.35,1049.47 545,1049.21C548.66,1048.95 552.32,1048.7 555.97,1048.45C559.63,1048.21 563.29,1047.96 566.94,1047.72C570.6,1047.49 574.25,1047.25 577.91,1047.02C581.57,1046.79 585.22,1046.57 588.88,1046.34C592.54,1046.12 596.19,1045.91 599.85,1045.69C603.5,1045.48 607.16,1045.28 610.82,1045.08C614.47,1044.88 618.13,1044.68 621.79,1044.49C625.44,1044.3 629.1,1044.12 632.76,1043.94C636.41,1043.77 640.07,1043.6 643.72,1043.44C647.38,1043.28 651.04,1043.13 654.69,1042.99C658.35,1042.85 662.01,1042.71 665.66,1042.59C669.32,1042.47 672.97,1042.36 676.63,1042.26C680.29,1042.16 685.77,1042.04 687.6,1042" fill="none" stroke="#1065af" stroke-width="4.4" stroke-linecap="round" stroke-linejoin="round"/>
<path d="M368.9,1232.35C372.96,1232.25 385.15,1231.95 393.27,1231.73C401.4,1231.51 409.52,1231.28 417.65,1231.03C425.77,1230.78 433.9,1230.52 442.02,1230.23C450.15,1229.95 458.27,1229.64 466.4,1229.32C474.52,1228.99 482.64,1228.64 490.77,1228.26C498.89,1227.87 507.02,1227.47 515.14,1227.03C523.27,1226.59 531.39,1226.12 539.52,1225.61C547.64,1225.1 555.77,1224.56 563.89,1223.97C572.02,1223.39 580.14,1222.77 588.27,1222.1C596.39,1221.43 604.51,1220.72 612.64,1219.96C620.76,1219.2 628.89,1218.39 637.01,1217.53C645.14,1216.67 653.26,1215.76 661.39,1214.79C669.51,1213.83 677.64,1212.8 685.76,1211.72C693.89,1210.64 702.01,1209.5 710.13,1208.29C718.26,1207.08 726.38,1205.81 734.51,1204.47C742.63,1203.13 750.76,1201.73 758.88,1200.25C767.01,1198.77 775.13,1197.22 783.26,1195.59C791.38,1193.96 799.51,1192.26 807.63,1190.48C815.76,1188.7 823.88,1186.84 832,1184.89C840.13,1182.94 848.25,1180.91 856.38,1178.8C864.5,1176.68 872.63,1174.47 880.75,1172.18C888.88,1169.88 897,1167.49 905.13,1165C913.25,1162.52 925.44,1158.55 929.5,1157.26" fill="none" stroke="#1065af" stroke-width="4.4" stroke-linecap="round" stroke-linejoin="round"/>
</g>
</svg>
</body></html>
